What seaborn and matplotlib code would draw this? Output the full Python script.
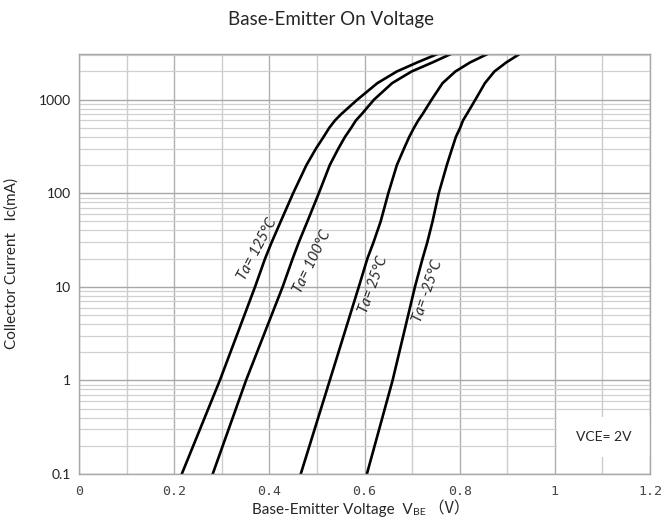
import numpy as np
import pandas as pd
import matplotlib
matplotlib.use("Agg")
import matplotlib.pyplot as plt
import seaborn as sns
from matplotlib.patches import Rectangle
from matplotlib.ticker import FixedLocator, LogLocator, NullFormatter

# collector current levels (mA) and the V_BE read at each level per curve
ic_ma = [0.1, 1, 10, 20, 30, 50, 100, 200, 300, 400, 500, 600, 700, 1000, 1500, 2000, 2500, 3100]
vbe_125 = [0.216, 0.296, 0.370, 0.391, 0.405, 0.424, 0.450, 0.478, 0.498, 0.514, 0.526, 0.538,
           0.551, 0.585, 0.627, 0.668, 0.711, 0.755]
vbe_100 = [0.281, 0.351, 0.428, 0.449, 0.462, 0.480, 0.504, 0.527, 0.545, 0.559, 0.572, 0.582,
           0.594, 0.620, 0.658, 0.699, 0.743, 0.783]
vbe_25 = [0.466, 0.527, 0.588, 0.606, 0.619, 0.634, 0.650, 0.668, 0.683, 0.694, 0.704, 0.713,
          0.722, 0.741, 0.764, 0.791, 0.822, 0.860]
vbe_m25 = [0.605, 0.659, 0.706, 0.722, 0.732, 0.743, 0.756, 0.773, 0.784, 0.792, 0.801, 0.807,
           0.815, 0.833, 0.853, 0.873, 0.898, 0.927]

curve_names = ["Ta= 125°C", "Ta= 100°C", "Ta= 25°C", "Ta= -25°C"]
label_x = [0.374, 0.490, 0.618, 0.733]
label_y = [25.2, 18.7, 10.6, 8.9]
label_rot = [62, 64, 70, 71]

x_ticks = [0, 0.2, 0.4, 0.6, 0.8, 1.0, 1.2]
x_ticklabels = ["0", "0.2", "0.4", "0.6", "0.8", "1", "1.2"]
y_ticks = [0.1, 1, 10, 100, 1000]
y_ticklabels = ["0.1", "1", "10", "100", "1000"]

rows = []
for name, vals in zip(curve_names, [vbe_125, vbe_100, vbe_25, vbe_m25]):
    for v, i in zip(vals, ic_ma):
        rows.append({"Ta": name, "Vbe": v, "Ic": i})
df = pd.DataFrame(rows)

sns.set_style("white")
plt.rcParams["font.family"] = ["Lato", "DejaVu Sans"]

fig = plt.figure(figsize=(6.61, 5.26), dpi=100)
ax = fig.add_axes([0.1195, 0.0989, 0.8639, 0.7991])

sns.lineplot(data=df, x="Vbe", y="Ic", hue="Ta", palette=["black"] * 4,
             linewidth=1.9, sort=False, legend=False, ax=ax)
ax.set_yscale("log")
ax.set_xlim(0, 1.2)
ax.set_ylim(0.1, 3100)

# grid
ax.xaxis.set_major_locator(FixedLocator(x_ticks))
ax.xaxis.set_minor_locator(FixedLocator(np.arange(0.1, 1.2, 0.2)))
ax.yaxis.set_major_locator(FixedLocator(y_ticks))
ax.yaxis.set_minor_locator(LogLocator(base=10, subs=np.arange(2, 10)))
ax.yaxis.set_minor_formatter(NullFormatter())
ax.grid(which="major", axis="x", color="#b0b0b0", linewidth=1.0)
ax.grid(which="minor", axis="x", color="#cccccc", linewidth=1.0)
ax.grid(which="major", axis="y", color="#a8a8a8", linewidth=1.0)
ax.grid(which="minor", axis="y", color="#d0d0d0", linewidth=0.9)
ax.set_axisbelow(True)
ax.tick_params(which="both", length=0)

ax.set_xticklabels(x_ticklabels, family="DejaVu Sans Mono", fontsize=9.5, color="#444444")
ax.set_yticklabels(y_ticklabels, fontsize=10, color="#222222")
ax.tick_params(axis="x", pad=8)
ax.tick_params(axis="y", pad=6)

for s in ax.spines.values():
    s.set_color("#a8a8a8")
    s.set_linewidth(1.0)

ax.set_xlabel("")
ax.set_ylabel("Collector Current   Ic(mA)", fontsize=11, labelpad=14)

for name, lx, ly, rot in zip(curve_names, label_x, label_y, label_rot):
    ax.text(lx, ly, name, rotation=rot, fontsize=10.5, style="italic",
            ha="center", va="center", rotation_mode="anchor")

# white box for the test condition
ax.add_patch(Rectangle((0.837, 0.04), 0.163, 0.096, transform=ax.transAxes,
                       facecolor="white", edgecolor="none", zorder=1.5))
ax.text(0.9185, 0.088, "VCE= 2V", transform=ax.transAxes, fontsize=10,
        ha="center", va="center", zorder=3)

fig.text(0.5, 0.962, "Base-Emitter On Voltage", ha="center", va="center", fontsize=13.5)

t1 = fig.text(0.381, 0.022, "Base-Emitter Voltage  V", ha="left", va="baseline", fontsize=11)
t2 = ax.annotate("BE", xy=(1, 0), xycoords=t1, va="bottom", fontsize=7.5)
ax.annotate(" （V）", xy=(1, 0), xycoords=t2, va="bottom", fontsize=11.5,
            family=["Noto Sans CJK SC", "DejaVu Sans"])

plt.savefig("out.png", dpi=100)
